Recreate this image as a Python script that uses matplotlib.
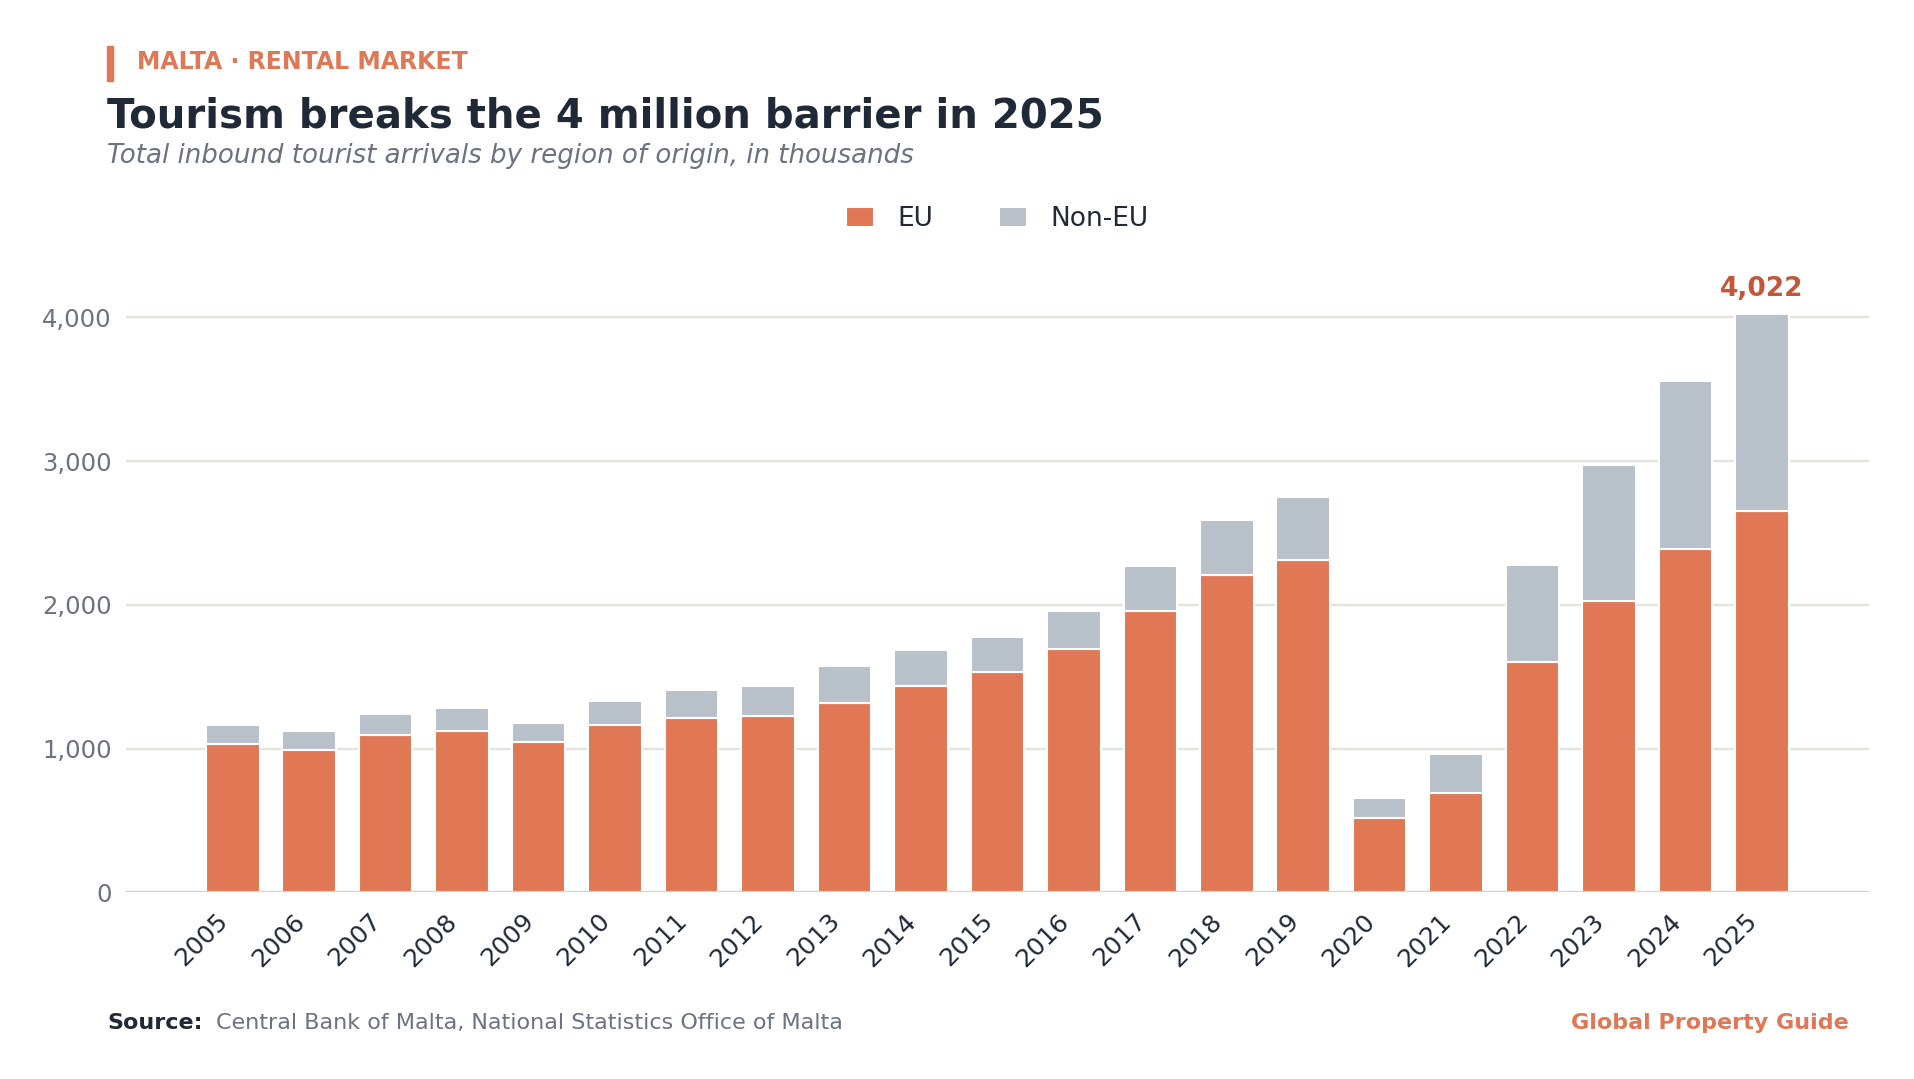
import numpy as np
import matplotlib
matplotlib.use("Agg")
import matplotlib.pyplot as plt
from matplotlib.patches import Rectangle
from matplotlib.ticker import FuncFormatter

# data (thousands of arrivals)
years = [str(y) for y in range(2005, 2026)]
eu = [1030, 988, 1092, 1120, 1043, 1161, 1210, 1224, 1316, 1434, 1531,
      1690, 1955, 2205, 2310, 515, 690, 1601, 2024, 2387, 2652]
total = [1165, 1120, 1240, 1283, 1178, 1330, 1407, 1435, 1576, 1686, 1777,
         1959, 2272, 2592, 2750, 654, 962, 2278, 2972, 3557, 4022]
non_eu = [t - e for t, e in zip(total, eu)]

EU_COL = "#E07856"
NON_COL = "#B8C0CA"
DARK = "#1F2937"
GREY = "#6B7280"

plt.rcParams['font.family'] = ['DejaVu Sans']

fig = plt.figure(figsize=(19.14, 10.79), dpi=100)
ax = fig.add_axes([0.0657, 0.173, 0.9108, 0.5728])

x = np.arange(len(years))
w = 0.70
ax.bar(x, eu, w, color=EU_COL, edgecolor="white", linewidth=1.5, label="EU", zorder=3)
ax.bar(x, non_eu, w, bottom=eu, color=NON_COL, edgecolor="white", linewidth=1.5,
       label="Non-EU", zorder=3)

ax.set_xlim(-1.4, 21.4)
ax.set_ylim(0, 4300)
ax.set_yticks([0, 1000, 2000, 3000, 4000])
ax.yaxis.set_major_formatter(FuncFormatter(lambda v, p: f"{int(v):,}"))
ax.grid(axis="y", color="#E6E2DC", linewidth=1.6, zorder=0)
ax.set_axisbelow(True)
for s in ax.spines.values():
    s.set_visible(False)
ax.axhline(0, color="#D4D1CA", linewidth=2.2, zorder=4)

ax.set_xticks(x)
ax.set_xticklabels(years, rotation=45, ha="right", fontsize=18, color=DARK)
ax.tick_params(axis="x", length=0, pad=12)
ax.tick_params(axis="y", length=0, pad=10, labelsize=17.5, labelcolor=GREY)

# label on last bar
ax.annotate(f"{total[-1]:,}", (x[-1], total[-1]), xytext=(0, 9),
            textcoords="offset points", ha="center", va="bottom",
            fontsize=19, fontweight="bold", color="#C4573A")

# legend
fig.legend(loc="center", bbox_to_anchor=(0.521, 0.797), ncol=2, frameon=False,
           fontsize=19, handlelength=1.06, handleheight=0.8,
           handletextpad=0.87, columnspacing=2.5, labelcolor=DARK)

# header
fig.add_artist(Rectangle((107 / 1914, 1 - 81 / 1079), 6 / 1914, 35 / 1079,
                         transform=fig.transFigure, color=EU_COL))
fig.text(137 / 1914, 1 - 62 / 1079, "MALTA · RENTAL MARKET", fontsize=17,
         fontweight="bold", color=EU_COL, va="center")
fig.text(107 / 1914, 1 - 116 / 1079, "Tourism breaks the 4 million barrier in 2025",
         fontsize=29, fontweight="bold", color=DARK, va="center")
fig.text(107 / 1914, 1 - 156 / 1079,
         "Total inbound tourist arrivals by region of origin, in thousands",
         fontsize=18.8, style="italic", color=GREY, va="center")

# footer
fig.text(107 / 1914, 1 - 1023 / 1079, "Source:", fontsize=16,
         fontweight="bold", color=DARK, va="center")
fig.text(216 / 1914, 1 - 1023 / 1079,
         "Central Bank of Malta, National Statistics Office of Malta",
         fontsize=16, color=GREY, va="center")
fig.text(1849 / 1914, 1 - 1023 / 1079, "Global Property Guide", fontsize=16,
         fontweight="bold", color=EU_COL, va="center", ha="right")

fig.savefig("out.png", dpi=100, facecolor="white")
